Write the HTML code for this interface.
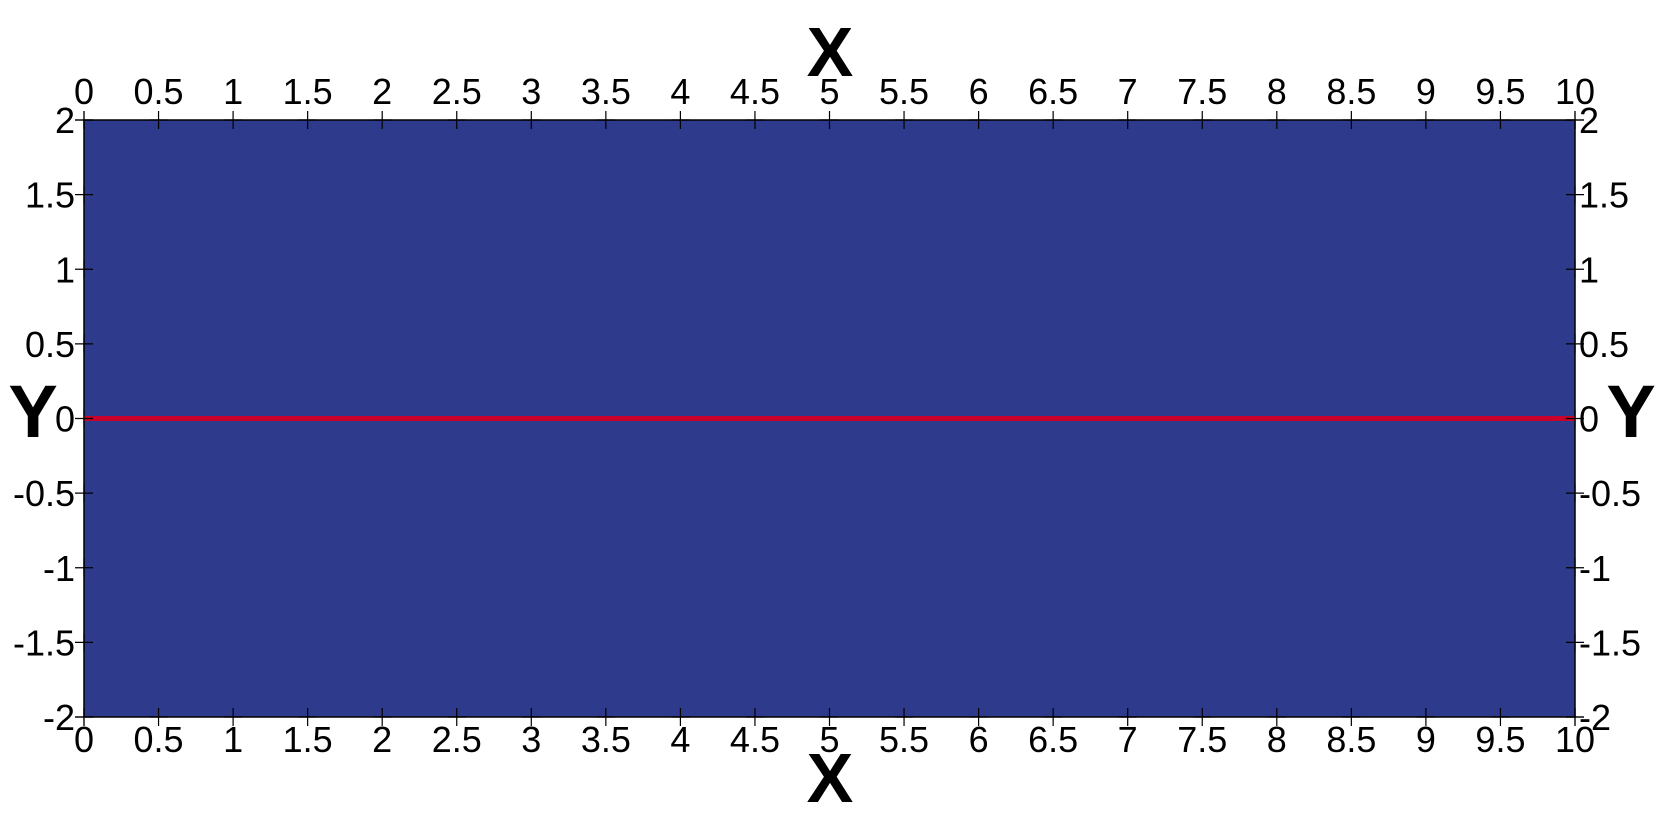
<!DOCTYPE html>
<html><head><meta charset="utf-8"><style>
html,body{margin:0;padding:0;background:#fff;}
svg{display:block;font-family:"Liberation Sans",sans-serif;}
</style></head><body>
<svg id="chart" width="1660" height="838" viewBox="0 0 1660 838" xmlns="http://www.w3.org/2000/svg">
<rect x="84" y="120" width="1491" height="597" fill="#2e3a8c" stroke="#000" stroke-width="1.5"/>
<g id="marks"></g>
<g id="axes"></g>
<text x="830" y="76" font-size="70" font-weight="bold" text-anchor="middle">X</text>
<text x="830" y="802" font-size="70" font-weight="bold" text-anchor="middle">X</text>
<text x="33" y="437" font-size="74" font-weight="bold" text-anchor="middle">Y</text>
<text x="1631" y="437" font-size="74" font-weight="bold" text-anchor="middle">Y</text>
</svg>
<script>
const xTicks=[0,0.5,1,1.5,2,2.5,3,3.5,4,4.5,5,5.5,6,6.5,7,7.5,8,8.5,9,9.5,10];
const yTicks=[2,1.5,1,0.5,0,-0.5,-1,-1.5,-2];
const lineX=[0,10];
const lineY=[0,0];
const X0=84,X1=1575,Y0=120,Y1=717;
const sx=v=>X0+(v-0)/(10-0)*(X1-X0);
const sy=v=>Y1-(v-(-2))/(2-(-2))*(Y1-Y0);
const NS="http://www.w3.org/2000/svg";
const axes=document.getElementById('axes'),marks=document.getElementById('marks');
function mk(tag,a,p){const e=document.createElementNS(NS,tag);for(const k in a)e.setAttribute(k,a[k]);p.appendChild(e);return e;}
const pl=mk('polyline',{points:lineX.map((x,i)=>sx(x)+','+sy(lineY[i])).join(' '),fill:'none',stroke:'#c8002a','stroke-width':5},marks);


xTicks.forEach(v=>{
  const x=sx(v);
  [Y0,Y1].forEach((y,i)=>{
    const t=mk('path',{d:`M${x} ${y-9}V${y+9}M${x-9} ${y}H${x+9}`,stroke:'#000','stroke-width':1.2},axes);
    
    
    const l=mk('text',{x:x,y:i?752:104,'font-size':36,'text-anchor':'middle'},axes);
    l.textContent=v;
    
    
  });
});
yTicks.forEach(v=>{
  const y=sy(v);
  [X0,X1].forEach((x,i)=>{
    const t=mk('path',{d:`M${x-9} ${y}H${x+9}M${x} ${y-9}V${y+9}`,stroke:'#000','stroke-width':1.2},axes);
    
    
    const l=mk('text',{x:i?1579:75,y:y+13,'font-size':36,'text-anchor':i?'start':'end'},axes);
    l.textContent=v;
    
    
  });
});
</script>
</body></html>
